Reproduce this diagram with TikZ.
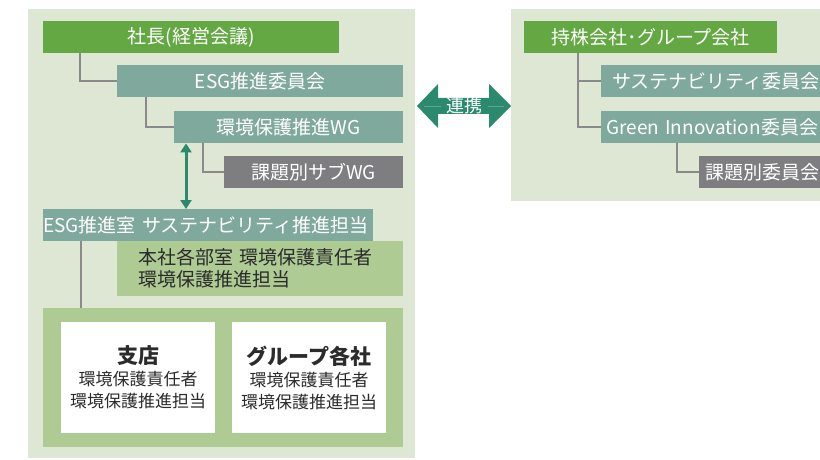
\documentclass[tikz,border=0pt]{standalone}
\usepackage{fontspec}
\setmainfont{Noto Sans CJK JP}
\usetikzlibrary{arrows.meta}
\definecolor{panelbg}{HTML}{DDE7D3}
\definecolor{topgreen}{HTML}{64A844}
\definecolor{tealbox}{HTML}{80A99D}
\definecolor{graybox}{HTML}{7E7E80}
\definecolor{midgreen}{HTML}{AFCB94}
\definecolor{linkteal}{HTML}{2B8A6E}
\definecolor{linegray}{HTML}{8A8A8A}
\definecolor{darktext}{HTML}{2B2B2B}
\begin{document}
\begin{tikzpicture}[x=1pt,y=-1pt,
  panel/.style={rectangle, fill=panelbg, draw=none, inner sep=0, anchor=north west},
  box/.style={rectangle, draw=none, inner sep=0, anchor=north west, text=white,
    minimum height=32pt, font=\fontsize{19}{22}\selectfont},
  lbox/.style={box, align=left},
  wbox/.style={rectangle, fill=white, draw=none, inner sep=0, anchor=north west,
    minimum width=154pt, minimum height=111pt, align=center, text=darktext,
    font=\fontsize{17}{22}\selectfont},
  conn/.style={draw=linegray, line width=2pt},
  varrow/.style={draw=linkteal, line width=3pt,
    {Triangle[width=11pt,length=9pt]}-{Triangle[width=11pt,length=9pt]}}
]
\useasboundingbox (0,0) rectangle (820,460);
\clip (0,0) rectangle (820,460);

% panels
\node[panel, minimum width=387pt, minimum height=449pt] (lpanel) at (28,9) {};
\node[panel, minimum width=330pt, minimum height=192pt] (rpanel) at (511,9) {};

% left hierarchy
\node[box, fill=topgreen, minimum width=296pt] (pres) at (43,21) {社長(経営会議)};
\node[box, fill=tealbox, minimum width=286pt] (esgc) at (117,65) {ESG推進委員会};
\node[box, fill=tealbox, minimum width=229pt] (wg) at (174,111) {環境保護推進WG};
\node[box, fill=graybox, minimum width=179pt] (subwg) at (224,156) {課題別サブWG};

\node[lbox, fill=tealbox, text width=330pt] (esgr) at (43,209) {ESG推進室 サステナビリティ推進担当};
\node[lbox, fill=midgreen, text=darktext, minimum height=55pt, inner xsep=21pt,
  text width=244pt] (hq) at (117,241) {本社各部室 環境保護責任者\\環境保護推進担当};

\node[rectangle, fill=midgreen, inner sep=0, anchor=north west,
  minimum width=360pt, minimum height=139pt] (outer) at (43,308) {};
\node[wbox] (branch) at (61,322) {{\fontsize{21}{26}\selectfont\bfseries 支店}\\環境保護責任者\\環境保護推進担当};
\node[wbox] (group) at (232,322) {{\fontsize{21}{26}\selectfont\bfseries グループ各社}\\環境保護責任者\\環境保護推進担当};

% right hierarchy
\node[box, fill=topgreen, minimum width=253pt] (hold) at (524,21) {持株会社･グループ会社};
\node[lbox, fill=tealbox, inner xsep=11pt, text width=216pt] (sust) at (601,65) {サステナビリティ委員会};
\node[lbox, fill=tealbox, inner xsep=5pt, text width=230pt] (gi) at (601,111) {Green Innovation委員会};
\node[lbox, fill=graybox, inner xsep=6pt, text width=124pt] (kadai) at (699,156) {課題別委員会};

% connectors left
\draw[conn] ([xshift=37pt]pres.south west) |- (esgc.west);
\draw[conn] ([xshift=29pt]esgc.south west) |- (wg.west);
\draw[conn] ([xshift=29pt]wg.south west) |- (subwg.west);
\draw[conn] ([xshift=38pt]esgr.south west) -- ([xshift=38pt]esgr.south west |- outer.north);
\draw[varrow] ([xshift=12pt]wg.south west) -- ([xshift=12pt]wg.south west |- esgr.north);

% connectors right
\draw[conn] ([xshift=54pt]hold.south west) |- (sust.west);
\draw[conn] ([xshift=54pt]hold.south west) |- (gi.west);
\draw[conn] ([xshift=76pt]gi.south west) |- (kadai.west);

% link arrow
\fill[linkteal] (417,106) -- (438,84) -- (438,98) -- (489,98) -- (489,84) -- (511,106)
  -- (489,128) -- (489,114) -- (438,114) -- (438,128) -- cycle;
\draw[white!25!linkteal, line width=0.4pt] (424,106) -- (441,106) (488,106) -- (504,106);
\node[text=white, inner sep=0pt, font=\fontsize{18}{20}\selectfont] (link) at (464.5,105.5) {連携};
\end{tikzpicture}
\end{document}
